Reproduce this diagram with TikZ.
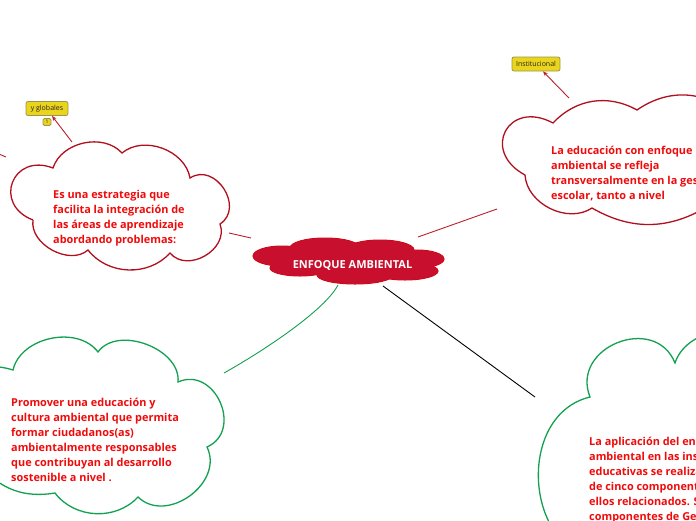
\documentclass[tikz,border=0pt]{standalone}
\usepackage{fontspec}
\setmainfont{Open Sans}
\usetikzlibrary{arrows.meta,positioning}
\definecolor{crimson}{HTML}{C8102E}
\definecolor{cloudred}{HTML}{B0101E}
\definecolor{linkred}{HTML}{B8202C}
\definecolor{leafgreen}{HTML}{12A150}
\definecolor{txtred}{HTML}{F00A0A}
\definecolor{tagfill}{HTML}{EAD41C}
\definecolor{tagedge}{HTML}{9A9650}
\tikzset{
  cloudline/.style={draw=#1, line width=1.3pt},
  cloudline/.default=cloudred,
  cloudtext/.style={anchor=north west, inner sep=0pt, align=left,
    text=txtred, font=\fontsize{10.9}{15}\selectfont\bfseries},
  rootpuff/.style={fill=crimson, draw=red!85!black, line width=1pt},
  roottext/.style={text=white, inner sep=0pt,
    font=\fontsize{11}{12}\selectfont\bfseries},
  tagbox/.style={rectangle, rounded corners=2pt, draw=tagedge, fill=tagfill,
    line width=0.8pt, font=\fontsize{7}{7}\selectfont, text=black!85,
    inner sep=0pt, minimum height=14pt},
  linkline/.style={line width=0.9pt, color=#1},
  linkline/.default=linkred,
  tagarrow/.style={-{Stealth[length=5pt, width=4pt]}, line width=0.9pt,
    color=linkred},
}
\begin{document}
\begin{tikzpicture}[x=1pt, y=-1pt]
  \useasboundingbox (0,0) rectangle (696,520);
  \clip (0,0) rectangle (696,520);

  \foreach \cx/\cy/\rx/\ry in {282/256/29/10, 325/248/35/10, 380/250/34/10,
      417/259/27/9, 405/271/33/9, 355/275/38/9, 300/268/30/8, 350/262/75/13}
    \path[rootpuff] (\cx,\cy) ellipse [x radius=\rx, y radius=\ry];
  \foreach \cx/\cy/\rx/\ry in {282/256/29/10, 325/248/35/10, 380/250/34/10,
      417/259/27/9, 405/271/33/9, 355/275/38/9, 300/268/30/8, 350/262/75/13}
    \fill[crimson] (\cx,\cy) ellipse [x radius=\rx, y radius=\ry];
  \node[roottext] (enfoque) at (352.5,265) {ENFOQUE AMBIENTAL};

  \draw[cloudline] (33,220) to[bend left=90, looseness=2] (53,168)
    to[bend left=60] (122,153) to[bend left=60] (190,178)
    to[bend left=90, looseness=1.4] (220,224)
    to[bend left=80, looseness=1.2] (170,253) to[bend left=50] (88,250)
    to[bend left=70] (33,220);
  \draw[cloudline] (525,175) to[bend left=90, looseness=2.2] (553,123)
    to[bend left=38] (637,110) to[bend left=36] (730,112)
    to[bend left=60] (740,208) to[bend left=40] (705,208)
    to[bend left=30] (592,208) to[bend left=60] (525,175);
  \draw[cloudline=leafgreen] (-20,465) to[bend left=60] (-30,372)
    to[bend left=20] (13,370) to[bend left=65] (98,352)
    to[bend left=75] (178,382) to[bend left=90, looseness=1.45] (207,447)
    to[bend left=80, looseness=1.2] (138,497) to[bend left=50] (55,493)
    to[bend left=30] (-20,465);
  \draw[cloudline=leafgreen] (600,560) to[bend left=80, looseness=1.2] (590,397)
    to[bend left=90, looseness=1.5] (675,363) to[bend left=60] (760,345)
    -- (760,560) -- cycle;

  \node[cloudtext] (estrategia) at (53,190.5) {Es una estrategia que\\facilita la integración de\\las áreas de aprendizaje\\abordando problemas:};
  \node[cloudtext] (educacion) at (551,145.5) {La educación con enfoque\\ambiental se refleja\\transversalmente en la gestión\\escolar, tanto a nivel};
  \node[cloudtext] (promover) at (11,397.5) {Promover una educación y\\cultura ambiental que permita\\formar ciudadanos(as)\\ambientalmente responsables\\que contribuyan al desarrollo\\sostenible a nivel .};
  \node[cloudtext] (aplicacion) at (589,436.5) {La aplicación del enfoque\\ambiental en las instituciones\\educativas se realiza a través\\de cinco componentes, todos\\ellos relacionados. Son\\componentes de Gestión};

  \node[tagbox, minimum width=42pt] (globales) at (47,108.5) {y globales};
  \node[tagbox, minimum width=8pt, minimum height=7pt, rounded corners=1.5pt,
    font=\fontsize{5}{5}\selectfont] (globales-n) at (47,122) {1};
  \node[tagbox, minimum width=48pt] (institucional) at (536,64) {Institucional};

  \coordinate (estrategia-e) at (229,233);
  \coordinate (enfoque-w) at (251,238);
  \coordinate (educacion-w) at (497,209);
  \coordinate (enfoque-ne) at (418,237);
  \coordinate (enfoque-s) at (338,285);
  \coordinate (promover-ne) at (224,373);
  \coordinate (enfoque-se) at (383,286);
  \coordinate (aplicacion-nw) at (535,397);
  \coordinate (estrategia-n) at (72,142);
  \coordinate (educacion-n) at (569,98);
  \coordinate (estrategia-w) at (6,157);
  \coordinate (offleft) at (-20,146);

  \draw[linkline] (estrategia-e) -- (enfoque-w);
  \draw[linkline] (enfoque-ne) -- (educacion-w);
  \draw[linkline=leafgreen] (enfoque-s) .. controls (325,310) and (265,350) .. (promover-ne);
  \draw[linkline=black] (enfoque-se) -- (aplicacion-nw);
  \draw[linkline] (estrategia-w) -- (offleft);
  \draw[tagarrow] (estrategia-n) -- ([xshift=5pt]globales.south);
  \draw[tagarrow] (educacion-n) -- ([xshift=7pt]institucional.south);
\end{tikzpicture}
\end{document}
